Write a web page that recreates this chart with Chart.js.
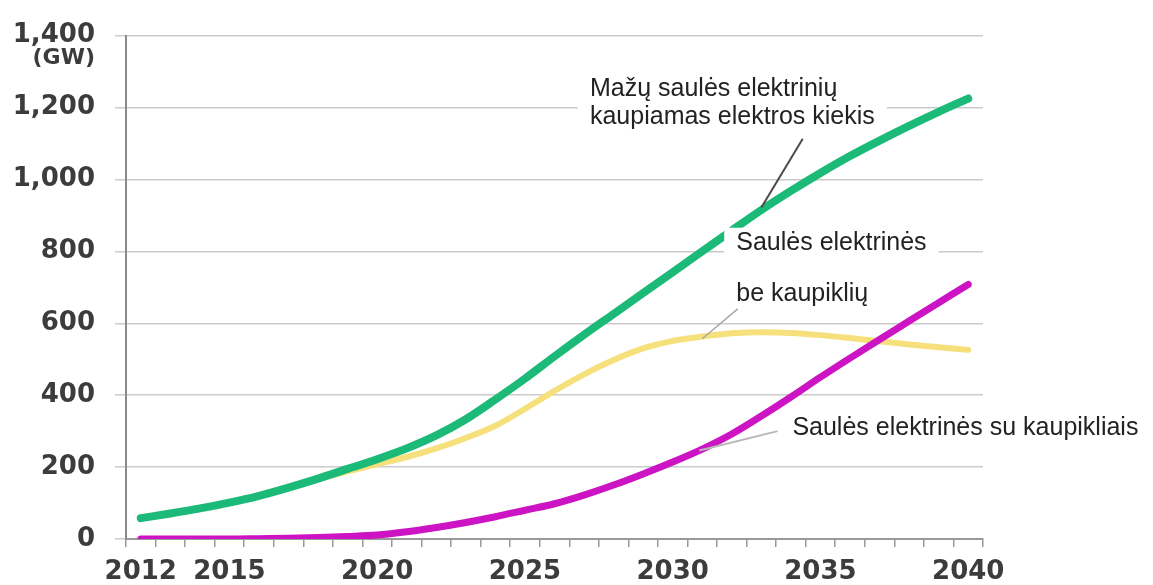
<!DOCTYPE html>
<html>
<head>
<meta charset="utf-8">
<script src="https://cdn.jsdelivr.net/npm/chart.js@4.4.1/dist/chart.umd.min.js"></script>
<style>
  body { margin: 0; background: #fff; }
  #wrap { width: 1153px; height: 585px; }
</style>
</head>
<body>
<div id="wrap"><canvas id="chart" width="1153" height="585"></canvas></div>
<script>
const years = [2012, 2013, 2014, 2015, 2016, 2017, 2018, 2019, 2020, 2021, 2022, 2023, 2024, 2025,
               2026, 2027, 2028, 2029, 2030, 2031, 2032, 2033, 2034, 2035, 2036, 2037, 2038, 2039, 2040];
const shownYears = [2012, 2015, 2020, 2025, 2030, 2035, 2040];

// GW
const smallStorage = [58, 71, 85, 101, 120, 143, 168, 195, 222, 252, 288, 333, 388, 446,
                      508, 568, 626, 684, 742, 800, 858, 915, 968, 1018, 1065, 1108, 1149, 1188, 1225];
const noStorage = [58, 71, 85, 101, 120, 143, 166, 188, 208, 228, 252, 281, 315, 362,
                   412, 458, 498, 530, 551, 563, 572, 575, 573, 567, 559, 550, 541, 533, 526];
const withStorage = [0, 0, 0, 0, 1, 2, 4, 7, 11, 20, 32, 46, 62, 80,
                     98, 122, 150, 181, 214, 250, 292, 342, 395, 450, 503, 555, 606, 657, 708];

const yTicks = [0, 200, 400, 600, 800, 1000, 1200, 1400];

// annotation text lines, placed in data space (year, value)
const notes = [
  { text: 'Mažų saulės elektrinių', year: 2027.2, value: 1251, box: true },
  { text: 'kaupiamas elektros kiekis', year: 2027.2, value: 1174, box: true },
  { text: 'Saulės elektrinės', year: 2032.15, value: 824, box: true },
  { text: 'be kaupiklių', year: 2032.15, value: 681, box: false },
  { text: 'Saulės elektrinės su kaupikliais', year: 2034.05, value: 309, box: false }
];
const leaders = [
  { from: [2034.4, 1113], to: [2033.0, 922], color: '#4a4a4a', width: 2 },
  { from: [2032.2, 640], to: [2031.0, 557], color: '#a8a8a8', width: 1.5 },
  { from: [2033.55, 300], to: [2030.9, 246], color: '#b8b8b8', width: 2 }
];

const notesPlugin = {
  id: 'notes',
  afterDatasetsDraw(chart) {
    const ctx = chart.ctx;
    const x = chart.scales.x, y = chart.scales.y;
    const px = yr => x.getPixelForValue(yr - years[0]);
    ctx.save();
    ctx.font = '25px "Liberation Sans", Arial, sans-serif';
    ctx.textBaseline = 'middle';
    ctx.textAlign = 'left';
    notes.forEach(n => {
      const tx = px(n.year), ty = y.getPixelForValue(n.value);
      if (n.box) {
        const w = ctx.measureText(n.text).width;
        ctx.fillStyle = '#fff';
        ctx.fillRect(tx - 12, ty - 15, w + 24, 30);
      }
    });
    notes.forEach(n => {
      ctx.fillStyle = '#222';
      ctx.fillText(n.text, px(n.year), y.getPixelForValue(n.value));
    });
    leaders.forEach(l => {
      ctx.beginPath();
      ctx.strokeStyle = l.color;
      ctx.lineWidth = l.width;
      ctx.moveTo(px(l.from[0]), y.getPixelForValue(l.from[1]));
      ctx.lineTo(px(l.to[0]), y.getPixelForValue(l.to[1]));
      ctx.stroke();
    });
    // unit under the top tick label
    ctx.font = 'bold 22px "DejaVu Sans", sans-serif';
    ctx.fillStyle = '#3c3c3c';
    ctx.textAlign = 'right';
    ctx.fillText('(GW)', y.right - 31, y.getPixelForValue(1336));
    ctx.restore();
  }
};

const tickFont = { family: '"DejaVu Sans", sans-serif', size: 26, weight: 'bold' };

new Chart(document.getElementById('chart'), {
  type: 'line',
  data: {
    labels: years,
    datasets: [
      {
        label: 'Saulės elektrinės su kaupikliais',
        data: withStorage,
        borderColor: '#cc14c4',
        borderWidth: 7,
        order: 1
      },
      {
        label: 'Mažų saulės elektrinių kaupiamas elektros kiekis',
        data: smallStorage,
        borderColor: '#1cba78',
        borderWidth: 8,
        order: 2
      },
      {
        label: 'Saulės elektrinės be kaupiklių',
        data: noStorage,
        borderColor: '#f5e07c',
        borderWidth: 6,
        order: 3
      }
    ]
  },
  options: {
    responsive: false,
    animation: false,
    layout: { padding: { left: 0, top: 31, right: 170, bottom: 0 } },
    elements: {
      point: { radius: 0 },
      line: { cubicInterpolationMode: 'monotone', borderCapStyle: 'round', fill: false }
    },
    plugins: {
      legend: { display: false },
      tooltip: { enabled: false }
    },
    scales: {
      x: {
        offset: true,
        grid: {
          offset: true,
          drawOnChartArea: false,
          drawTicks: true,
          tickLength: 8,
          color: '#999',
          lineWidth: 1.5
        },
        border: { color: '#999', width: 2 },
        ticks: {
          autoSkip: false,
          maxRotation: 0,
          padding: 10,
          color: '#3c3c3c',
          font: tickFont,
          callback: (v, i) => shownYears.includes(years[i]) ? String(years[i]) : ''
        },
        afterFit: s => { s.height = 46; }
      },
      y: {
        min: 0,
        max: 1400,
        afterBuildTicks: s => { s.ticks = yTicks.map(v => ({ value: v })); },
        grid: {
          color: '#cbcbcb',
          lineWidth: 1.5,
          tickLength: 11
        },
        border: { color: '#8a8a8a', width: 2 },
        ticks: {
          padding: 20,
          color: '#3c3c3c',
          font: tickFont,
          callback: v => v.toLocaleString('en-US')
        },
        afterFit: s => { s.width = 126; }
      }
    }
  },
  plugins: [notesPlugin]
});
</script>
</body>
</html>
